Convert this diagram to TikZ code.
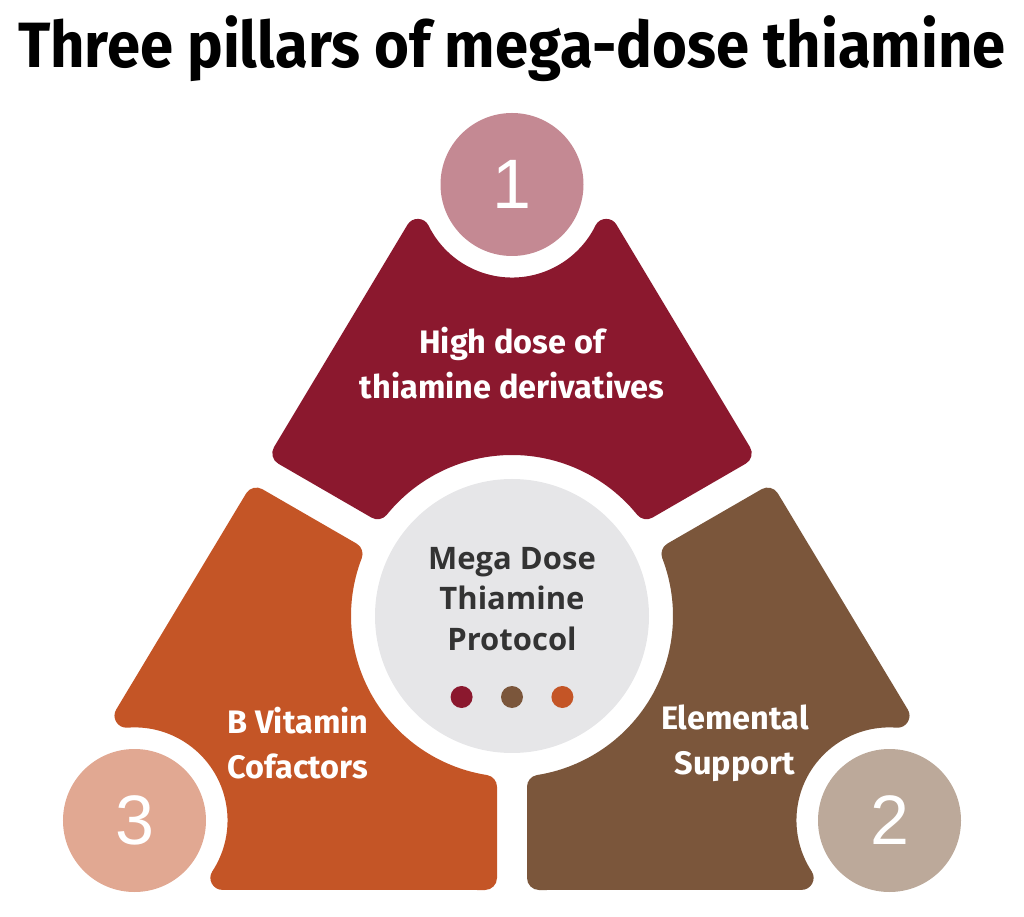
\documentclass[tikz,border=0pt]{standalone}
\usepackage{fontspec}
\setmainfont{Fira Sans}
\newfontfamily\numfont{Liberation Sans}
\newfontfamily\headfont[FakeStretch=0.935]{Fira Sans}
\newfontfamily\hubfont{Open Sans}
\usetikzlibrary{positioning}
\definecolor{PillarRed}{RGB}{139,24,46}
\definecolor{PillarBrown}{RGB}{123,86,59}
\definecolor{PillarOrange}{RGB}{196,85,38}
\definecolor{BadgeRed}{RGB}{196,137,147}
\definecolor{BadgeBrown}{RGB}{188,169,154}
\definecolor{BadgeOrange}{RGB}{225,168,146}
\definecolor{HubGrey}{RGB}{230,230,232}
\definecolor{HubText}{RGB}{51,51,51}
\tikzset{
  pillar/.style={fill=#1,draw=#1,line width=24pt,line join=round},
  badge/.style={circle,fill=#1,minimum size=143pt,inner sep=0pt,
    text=white,font=\numfont\fontsize{70}{70}\selectfont},
  hub/.style={circle,fill=HubGrey,minimum size=274pt,inner sep=0pt},
  hubtext/.style={text=HubText,align=center,
    font=\hubfont\bfseries\fontsize{31}{40.5}\selectfont},
  pillartext/.style={text=white,align=center,
    font=\bfseries\fontsize{32.5}{45}\selectfont},
  dot/.style={circle,fill=#1,minimum size=22pt,inner sep=0pt},
  heading/.style={anchor=base,font=\headfont\bfseries\fontsize{64}{64}\selectfont}
}

\begin{document}
\begin{tikzpicture}[x=1pt,y=1pt]
  \useasboundingbox (-512,-301) rectangle (512,616);
  \node[heading] (title) at (0,548) {Three pillars of mega-dose thiamine};

  % top pillar
  \path[pillar=PillarRed] (94.2,385.1) -- (227.7,162.7) -- (134.5,108.8)
    arc[start angle=38.97,end angle=141.03,radius=173]
    -- (-227.7,162.7) -- (-94.2,385.1)
    arc[start angle=206.2,end angle=333.8,radius=105] -- cycle;
  % lower pillars, right one mirrored to the left
  \foreach \sx/\col in {1/PillarBrown,-1/PillarOrange}{
    \begin{scope}[xscale=\sx]
      \path[pillar=\col] (161.5,62.06) -- (255.6,116.4) -- (385.5,-99.7)
        arc[start angle=85.6,end angle=213.2,radius=105]
        -- (27,-262) -- (27,-170.88)
        arc[start angle=-81.02,end angle=21.02,radius=173] -- cycle;
    \end{scope}
  }

  \node[badge=BadgeRed] (badge1) at (0,431.5) {1};
  \node[badge=BadgeBrown] (badge2) at (377.5,-204.5) {2};
  \node[badge=BadgeOrange] (badge3) at (-377.5,-204.5) {3};

  \node[hub] (hub) at (0,0) {};
  \node[hubtext] (hubtitle) at (0,17) {Mega Dose\\Thiamine\\Protocol};
  \node[dot=PillarBrown] (dot2) at (0,-81) {};
  \node[dot=PillarRed,left=28pt of dot2] (dot1) {};
  \node[dot=PillarOrange,right=28pt of dot2] (dot3) {};

  \node[pillartext] (text1) at (0,253) {High dose of\\thiamine derivatives};
  \node[pillartext] (text2) at (223,-127.5) {Elemental\\Support};
  \node[pillartext] (text3) at (-214,-127.5) {B Vitamin\\Cofactors};
\end{tikzpicture}
\end{document}
